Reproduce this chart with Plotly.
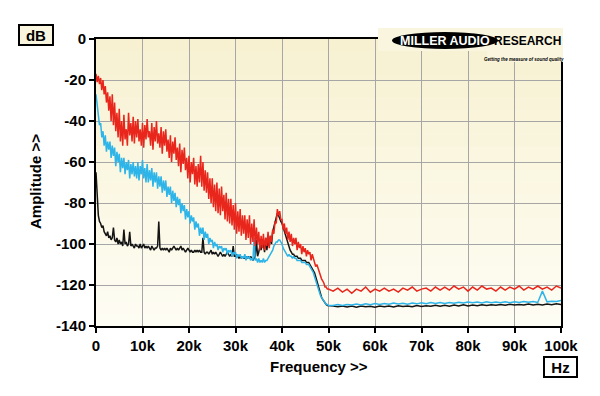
import plotly.graph_objects as go

# ---------------- data ----------------
freq_khz = [
    0, 0.25, 0.5, 0.75, 1, 1.25, 1.5, 1.75, 2, 2.25, 2.5, 2.75,
    3, 3.25, 3.5, 3.75, 4, 4.25, 4.5, 4.75, 5, 5.25, 5.5, 5.75,
    6, 6.25, 6.5, 6.75, 7, 7.25, 7.5, 7.75, 8, 8.25, 8.5, 8.75,
    9, 9.25, 9.5, 9.75, 10, 10.25, 10.5, 10.75, 11, 11.25, 11.5, 11.75,
    12, 12.25, 12.5, 12.75, 13, 13.25, 13.5, 13.75, 14, 14.25, 14.5, 14.75,
    15, 15.25, 15.5, 15.75, 16, 16.25, 16.5, 16.75, 17, 17.25, 17.5, 17.75,
    18, 18.25, 18.5, 18.75, 19, 19.25, 19.5, 19.75, 20, 20.25, 20.5, 20.75,
    21, 21.25, 21.5, 21.75, 22, 22.25, 22.5, 22.75, 23, 23.25, 23.5, 23.75,
    24, 24.25, 24.5, 24.75, 25, 25.25, 25.5, 25.75, 26, 26.25, 26.5, 26.75,
    27, 27.25, 27.5, 27.75, 28, 28.25, 28.5, 28.75, 29, 29.25, 29.5, 29.75,
    30, 30.25, 30.5, 30.75, 31, 31.25, 31.5, 31.75, 32, 32.25, 32.5, 32.75,
    33, 33.25, 33.5, 33.75, 34, 34.25, 34.5, 34.75, 35, 35.25, 35.5, 35.75,
    36, 36.25, 36.5, 36.75, 37, 37.25, 37.5, 37.75, 38, 38.25, 38.5, 38.75,
    39, 39.25, 39.5, 39.75, 40, 40.25, 40.5, 40.75, 41, 41.25, 41.5, 41.75,
    42, 42.25, 42.5, 42.75, 43, 43.25, 43.5, 43.75, 44, 44.25, 44.5, 44.75,
    45, 45.25, 45.5, 45.75, 46, 46.25, 46.5, 46.75, 47, 47.25, 47.5, 47.75,
    48, 48.25, 48.5, 48.75, 49, 49.25, 49.5, 49.75, 50,
    51, 52, 53, 54, 55, 56, 57, 58, 59, 60,
    61, 62, 63, 64, 65, 66, 67, 68, 69, 70,
    71, 72, 73, 74, 75, 76, 77, 78, 79, 80,
    81, 82, 83, 84, 85, 86, 87, 88, 89, 90,
    91, 92, 93, 94, 95, 96, 97, 98, 99, 100,
]

red_db = [
    -17, -21, -18, -22, -19, -25, -20, -27, -23, -31, -26, -35,
    -28, -40, -27, -42, -31, -45, -36, -48, -34, -50, -40, -52,
    -37, -49, -44, -52, -36, -47, -41, -50, -38, -51, -40, -48,
    -39, -50, -44, -52, -41, -53, -42, -49, -39, -48, -45, -52,
    -41, -54, -43, -50, -40, -51, -46, -53, -43, -56, -45, -52,
    -44, -55, -49, -58, -47, -60, -50, -56, -48, -59, -53, -62,
    -51, -65, -54, -61, -53, -64, -58, -68, -57, -70, -60, -66,
    -58, -71, -62, -72, -61, -70, -57, -72, -60, -74, -64, -75,
    -65, -78, -68, -80, -68, -82, -71, -84, -70, -85, -73, -86,
    -72, -84, -76, -88, -75, -89, -78, -90, -78, -91, -81, -93,
    -80, -95, -84, -94, -83, -96, -86, -95, -86, -98, -88, -97,
    -86, -100, -90, -99, -88, -101, -92, -100, -94, -103, -96, -102,
    -95, -103, -97, -101, -94, -102, -96, -99, -93, -95, -89, -90,
    -83, -86, -84, -88, -88, -93, -90, -95, -92, -98, -94, -99,
    -95, -101, -97, -100, -97, -103, -99, -102, -100, -105, -101, -104,
    -102, -106, -103, -105, -104, -108, -105, -107, -108, -111, -110, -112,
    -113, -116, -117, -118, -119, -121, -121, -122, -122,
    -123, -121.5, -123.5, -122, -124, -122, -123, -121, -123.5, -122,
    -123, -121.5, -123, -122, -123.5, -121.5, -122.5, -121, -123, -122,
    -121.5, -123, -121, -122.5, -121, -122.5, -120.5, -122, -121, -123,
    -121, -122.5, -120.5, -122, -121.5, -123, -121, -122.5, -121, -122,
    -120.5, -122.5, -121, -122, -120.5, -122, -121, -122.5, -120.5, -121.5,
]

blue_db = [
    -27, -33, -38, -42, -41, -48, -45, -52, -47, -55, -50, -54,
    -50, -58, -52, -57, -53, -62, -55, -60, -56, -65, -58, -63,
    -58, -66, -60, -64, -59, -68, -61, -66, -60, -67, -62, -68,
    -60, -69, -62, -66, -59, -68, -63, -70, -61, -70, -64, -69,
    -63, -72, -65, -70, -65, -73, -67, -72, -67, -75, -69, -74,
    -69, -77, -72, -76, -72, -80, -74, -79, -75, -82, -77, -81,
    -78, -85, -80, -84, -81, -88, -83, -87, -84, -90, -86, -89,
    -87, -93, -89, -92, -90, -96, -92, -95, -92, -98, -94, -97,
    -95, -100, -97, -99, -98, -102, -99, -101, -100, -103, -101, -102,
    -101, -104, -102, -103, -102, -105, -103, -104, -103, -106, -104, -105,
    -104, -107, -105, -106, -105, -107, -106, -107, -105, -108, -106, -107,
    -106, -108, -107, -108, -97, -108, -107, -109, -107, -109, -108, -109,
    -107, -109, -108, -108, -107, -106, -105, -104, -103, -101, -100, -99,
    -99, -98, -98, -99, -100, -102, -103, -104, -105, -106, -105, -106,
    -106, -107, -106, -107, -107, -108, -108, -108, -108, -109, -109, -109,
    -109, -110, -110, -110, -111, -112, -113, -114, -116, -118, -120, -122,
    -124, -125, -126, -127, -128, -129, -129.5, -129.5, -130,
    -130, -129.5, -130, -129.5, -129.8, -129.3, -129.8, -129.2, -129.6, -129,
    -129.5, -129, -129.4, -128.8, -129.3, -128.9, -129.4, -128.8, -129.2, -128.7,
    -129.1, -128.6, -129, -128.5, -129, -128.6, -128.9, -128.4, -128.8, -128.3,
    -128.7, -128.3, -128.8, -128.2, -128.6, -128.3, -128.7, -128.2, -128.6, -128.2,
    -128.5, -128, -128.4, -128.1, -128.5, -123, -128.2, -127.9, -128.1, -127.6,
]

black_db = [
    -65, -80, -86, -89, -90, -92, -91, -94, -95, -96, -94, -97,
    -96, -98, -97, -92, -98, -99, -97, -100, -98, -100, -99, -101,
    -93, -100, -99, -101, -100, -94, -101, -100, -101, -102, -100, -101,
    -101, -102, -100, -102, -101, -100, -102, -101, -102, -101, -102, -103,
    -101, -102, -103, -102, -102, -101, -89, -102, -103, -102, -103, -102,
    -103, -102, -103, -104, -102, -103, -102, -101, -102, -103, -102, -103,
    -102, -101, -103, -102, -103, -104, -103, -102, -103, -104, -103, -104,
    -104, -103, -104, -103, -104, -103, -104, -104, -97, -104, -105, -104,
    -104, -105, -104, -103, -105, -104, -105, -104, -105, -106, -105, -104,
    -105, -106, -105, -106, -105, -104, -105, -106, -105, -106, -101, -106,
    -106, -105, -106, -107, -106, -107, -106, -107, -107, -106, -107, -106,
    -107, -106, -107, -108, -107, -106, -98, -106, -104, -101, -103, -99,
    -100, -104, -97, -103, -98, -101, -96, -100, -94, -92, -89, -88,
    -85, -86, -88, -89, -90, -92, -94, -96, -98, -100, -102, -103,
    -104, -105, -105, -106, -106, -106, -107, -107, -107, -108, -108, -108,
    -108, -109, -109, -109, -110, -111, -112, -113, -114, -116, -118, -121,
    -123, -125, -126, -127, -128, -129, -129.5, -130, -130,
    -130.3, -130.6, -130.2, -130.7, -130.3, -130.8, -130.2, -130.6, -130.4, -130.8,
    -130.3, -130.6, -130.2, -130.7, -130.1, -130.5, -130.2, -130.6, -130, -130.5,
    -130.1, -130.4, -129.9, -130.4, -129.9, -130.3, -129.8, -130.2, -129.7, -130.2,
    -129.8, -130.1, -129.6, -130, -129.6, -129.9, -129.5, -129.9, -129.4, -129.8,
    -129.5, -129.8, -129.3, -129.7, -129.4, -129.7, -129.3, -129.6, -129.2, -129.5,
]

x_tick_vals = [0, 10, 20, 30, 40, 50, 60, 70, 80, 90, 100]
x_tick_text = ["0", "10k", "20k", "30k", "40k", "50k", "60k", "70k", "80k", "90k", "100k"]
y_tick_vals = [0, -20, -40, -60, -80, -100, -120, -140]
y_tick_text = ["0", "-20", "-40", "-60", "-80", "-100", "-120", "-140"]

series = [
    ("black", black_db, "#141414"),
    ("blue", blue_db, "#2db4e8"),
    ("red", red_db, "#e8261c"),
]

# ---------------- layout geometry ----------------
W, H = 600, 396
L, R, T, B = 96, 39, 39, 70
PW, PH = W - L - R, H - T - B


def px(x):
    return (x - L) / PW


def py(y):
    return (H - B - y) / PH


FONT = "Liberation Sans, Arial, sans-serif"
CREAM = "rgb(249,245,222)"

fig = go.Figure()
for name, ys, color in series:
    fig.add_trace(go.Scatter(
        x=freq_khz, y=ys, mode="lines", name=name,
        line=dict(color=color, width=1.5),
        showlegend=False, hoverinfo="skip",
    ))

shapes = []
# vertical cream gradient for the plot background
top_c = (247, 241, 209)
bot_c = (254, 253, 244)
nb = 24
for i in range(nb):
    t = i / (nb - 1)
    c = tuple(round(top_c[k] + (bot_c[k] - top_c[k]) * t) for k in range(3))
    shapes.append(dict(
        type="rect", xref="paper", yref="paper", layer="below",
        x0=0, x1=1, y0=1 - (i + 1) / nb, y1=1 - i / nb,
        fillcolor="rgb(%d,%d,%d)" % c, line=dict(width=0),
    ))

# logo block
shapes.append(dict(type="rect", xref="paper", yref="paper", layer="above",
                   x0=px(378), x1=px(563), y0=py(51), y1=py(28),
                   fillcolor=CREAM, line=dict(width=0)))
shapes.append(dict(type="rect", xref="paper", yref="paper", layer="above",
                   x0=px(487), x1=px(563), y0=py(62), y1=py(51),
                   fillcolor=CREAM, line=dict(width=0)))
shapes.append(dict(type="circle", xref="paper", yref="paper", layer="above",
                   x0=px(392), x1=px(498), y0=py(49), y1=py(32),
                   fillcolor="black", line=dict(width=0)))


def ann(text, x, y, size, color="black", **kw):
    d = dict(text=text, x=px(x), y=py(y), xref="paper", yref="paper",
             xanchor="center", yanchor="middle", showarrow=False,
             font=dict(family=FONT, size=size, color=color))
    d.update(kw)
    return d


annotations = [
    ann("<b>MILLER AUDIO</b>", 445, 41, 12.5, "white"),
    ann("<b>RESEARCH</b>", 527, 41, 12),
    ann("<b><i>Getting the measure of sound quality</i></b>", 524, 59.5, 4.5),
    ann("<b>dB</b>", 35.5, 34.5, 15, bgcolor=CREAM, bordercolor="black",
        borderwidth=2, borderpad=1, width=30, height=16),
    ann("<b>Hz</b>", 560, 366.5, 15, bgcolor="white", bordercolor="black",
        borderwidth=2, borderpad=1, width=29, height=16),
    ann("<b>Frequency >></b>", 319, 366, 15),
    ann("<b>Amplitude >></b>", 35, 181, 15, textangle=-90),
]

axis_common = dict(
    showline=True, linecolor="black", linewidth=2, mirror=True,
    ticks="outside", ticklen=5, tickwidth=1.5, tickcolor="black",
    tickfont=dict(family=FONT, size=15, color="black", weight="bold"),
    showgrid=True, gridcolor="#a6a6a6", gridwidth=1, zeroline=False,
)

fig.update_layout(
    width=W, height=H,
    margin=dict(l=L, r=R, t=T, b=B, pad=0),
    paper_bgcolor="white", plot_bgcolor="rgb(251,248,230)",
    xaxis=dict(range=[0, 100], tickvals=x_tick_vals, ticktext=x_tick_text, **axis_common),
    yaxis=dict(range=[-140, 0], tickvals=y_tick_vals, ticktext=y_tick_text, **axis_common),
    shapes=shapes, annotations=annotations,
    showlegend=False,
)

fig.write_html("out.html", config={"displayModeBar": False},
               post_script="document.body.style.margin='0';")
